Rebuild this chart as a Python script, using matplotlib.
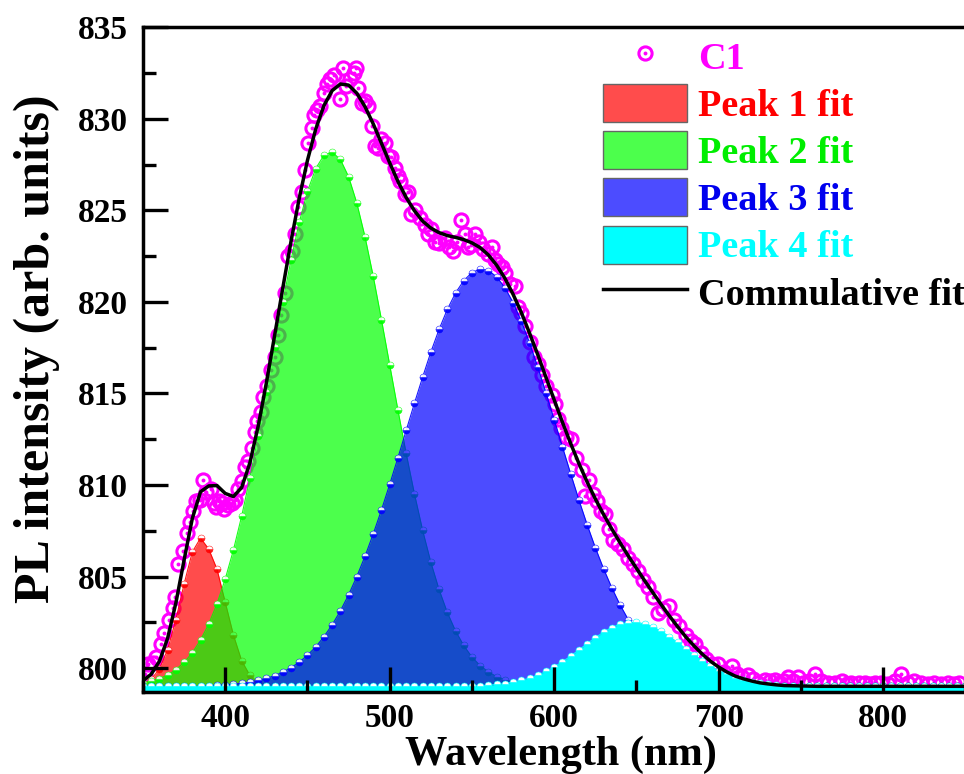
import numpy as np
import matplotlib
matplotlib.use("Agg")
import matplotlib.pyplot as plt
from matplotlib.lines import Line2D
from matplotlib.patches import Patch
from matplotlib.legend_handler import HandlerTuple
from matplotlib.ticker import MultipleLocator

plt.rcParams["font.family"] = ["Liberation Serif", "DejaVu Serif"]
plt.rcParams["font.weight"] = "bold"

# measured PL spectrum (C1)
c1_wl = [351, 353, 356, 358, 361, 363, 366, 368, 369.5, 371.5, 374.5, 376.5,
         378.5, 380.5, 382.5, 384.5, 386.5, 388.5, 391.5, 393, 394.7, 396.5,
         397.8, 399.5, 401.8, 404, 405.9, 407.9, 410, 412, 414, 416, 418,
         419.5, 421.5, 423, 425.5, 428, 430, 432, 434, 436.3, 438.3, 440.5,
         442.4, 444.4, 446.4, 448.5, 450.5, 452.5, 454, 456, 457.6, 460, 462,
         463.6, 466, 469.7, 471.7, 473.7, 476, 478, 479.8, 481, 483, 485, 487,
         489, 491, 493, 495, 497, 499, 501, 503, 505, 506.2, 509.2, 511.2,
         513.2, 515.5, 518.3, 521.4, 523.5, 525.4, 527.5, 530, 533.5, 536,
         538.6, 541, 543.6, 545.7, 547.5, 549.7, 551.8, 554, 557, 559.5, 561.9,
         564, 566, 568, 570, 573, 576.1, 578.1, 580, 582.2, 585.2, 588, 590.3,
         592.3, 595, 598.4, 600.4, 602.5, 604.4, 607, 610.5, 613, 616.6, 618.7,
         621, 623.5, 626, 628.5, 631, 633.5, 636, 639, 642, 645, 648, 651, 654,
         657, 660, 663, 666, 670, 673, 676, 680, 683, 685.5, 689, 692, 696,
         699.7, 703, 707.8, 711, 714, 718, 721, 724, 728, 731, 734, 737, 740,
         742.2, 745, 748.3, 751, 755, 758.5, 762, 766.6, 770.6, 774.7, 778,
         780.7, 785, 788.8, 792, 795, 798.9, 803, 807, 811, 815, 819, 823, 827,
         831, 835, 839.5, 843, 846]
c1_int = [799.7, 800.2, 800.3, 800.6, 801.3, 801.9, 802.6, 803.3, 803.9, 805.7,
          806.4, 807.4, 808.0, 808.6, 809.1, 809.2, 810.3, 809.6, 809.8, 809.0,
          808.8, 809.1, 809.0, 808.7, 808.9, 809.0, 809.2, 809.8, 810.2, 811.0,
          811.3, 812.0, 812.9, 813.5, 814.0, 814.8, 815.4, 816.3, 817.0, 818.2,
          819.3, 820.5, 822.5, 822.8, 823.7, 825.2, 826.0, 827.2, 828.7, 829.5,
          830.2, 830.5, 830.7, 831.4, 831.9, 832.2, 832.4, 831.1, 832.8, 831.8,
          832.2, 832.5, 832.8, 831.7, 830.9, 831.0, 830.7, 829.6, 828.5, 828.4,
          828.9, 828.7, 828.0, 827.9, 827.3, 826.9, 826.6, 825.9, 826.0, 824.8,
          825.0, 824.6, 824.2, 823.7, 824.0, 823.3, 823.2, 823.5, 823.0, 822.8,
          823.3, 824.5, 823.7, 823.0, 823.1, 823.7, 823.3, 822.9, 822.6, 823.0,
          822.3, 822.1, 821.9, 821.6, 821.0, 820.9, 819.7, 819.4, 818.7, 817.8,
          817.0, 816.6, 816.0, 815.4, 814.9, 814.4, 813.6, 813.1, 812.6, 812.5,
          811.5, 810.8, 809.4, 810.3, 809.5, 809.1, 808.6, 808.4, 807.6, 807.0,
          806.8, 806.5, 806.0, 805.7, 805.3, 804.8, 804.4, 803.9, 803.0, 803.2,
          803.4, 802.6, 802.3, 801.8, 801.5, 801.3, 800.8, 800.5, 800.2, 800.2,
          799.8, 800.1, 799.7, 799.5, 799.6, 799.4, 799.2, 799.35, 799.3, 799.35,
          799.2, 799.3, 799.5, 799.3, 799.5, 799.2, 799.3, 799.7, 799.3, 799.2,
          799.2, 799.3, 799.1, 799.2, 799.2, 799.2, 799.1, 799.2, 799.2, 799.1,
          799.3, 799.7, 799.2, 799.3, 799.2, 799.1, 799.2, 799.1, 799.2, 799.1,
          799.2]

# fitted peaks, sampled every 5 nm from the given start wavelength
baseline = 799.0
fit_step = 5
fit_wl = np.arange(350, 855, fit_step)

peak1_start = 350
peak1 = [799.13, 799.38, 799.95, 801.01, 802.64, 804.59, 806.34, 807.10,
         806.50, 805.40, 803.60, 801.80, 800.40, 799.60, 799.22, 799.06,
         799.02, 799.00]

peak2_start = 350
peak2 = [799.18, 799.28, 799.42, 799.62, 799.91, 800.31, 800.83, 801.53,
         802.41, 803.51, 804.86, 806.45, 808.30, 810.38, 812.66, 815.08,
         817.55, 819.99, 822.29, 824.35, 826.04, 827.29, 828.02, 828.19,
         827.79, 826.85, 825.41, 823.56, 821.40, 819.03, 816.56, 814.10,
         811.73, 809.53, 807.53, 805.78, 804.29, 803.04, 802.03, 801.23,
         800.60, 800.13, 799.79, 799.53, 799.36, 799.23, 799.15, 799.09,
         799.06, 799.03, 799.02]

peak3_start = 390
peak3 = [799.04, 799.06, 799.08, 799.12, 799.16, 799.23, 799.32, 799.43,
         799.58, 799.77, 800.02, 800.32, 800.70, 801.15, 801.71, 802.36,
         803.12, 804.00, 805.00, 806.11, 807.33, 808.64, 810.04, 811.49,
         812.98, 814.46, 815.89, 817.26, 818.50, 819.59, 820.49, 821.17,
         821.61, 821.80, 821.72, 821.38, 820.79, 819.97, 818.96, 817.77,
         816.45, 815.04, 813.57, 812.09, 810.62, 809.19, 807.84, 806.58,
         805.43, 804.39, 803.46, 802.65, 801.96, 801.36, 800.87, 800.46,
         800.13, 799.86, 799.65, 799.49, 799.36, 799.26, 799.19, 799.13,
         799.09, 799.07, 799.05, 799.03, 799.02, 799.01]

peak4_start = 540
peak4 = [799.01, 799.01, 799.02, 799.04, 799.06, 799.10, 799.15, 799.22,
         799.32, 799.44, 799.61, 799.81, 800.06, 800.34, 800.65, 800.99,
         801.33, 801.66, 801.96, 802.21, 802.39, 802.48, 802.49, 802.41,
         802.25, 802.01, 801.72, 801.40, 801.05, 800.72, 800.40, 800.11,
         799.86, 799.65, 799.47, 799.34, 799.24, 799.16, 799.11, 799.07,
         799.04, 799.03, 799.02, 799.01]

legend_labels = ["C1", "Peak 1 fit", "Peak 2 fit", "Peak 3 fit", "Peak 4 fit",
                 "Commulative fit"]


def on_grid(start, vals):
    y = np.full(fit_wl.size, baseline)
    i = int(round((start - fit_wl[0]) / fit_step))
    y[i:i + len(vals)] = vals
    return y


peaks = [on_grid(peak1_start, peak1), on_grid(peak2_start, peak2),
         on_grid(peak3_start, peak3), on_grid(peak4_start, peak4)]
cumulative = baseline + sum(p - baseline for p in peaks)

magenta = "#ff00ff"
fill_colors = ["#ff0000", "#00ff00", "#0000ff", "#00ffff"]
fill_alphas = [0.7, 0.7, 0.7, 1.0]
patch_colors = ["#ff4c4c", "#4cff4c", "#4c4cff", "#00ffff"]
text_colors = [magenta, "#ff0000", "#00ee00", "#0000ee", "#00ffff", "black"]

fig = plt.figure(figsize=(9.64, 7.74), dpi=100)
ax = fig.add_axes([0.1483, 0.1062, 0.8532, 0.8583])
ax.set_axisbelow(False)

ax.plot(c1_wl, c1_int, "o", ms=9.5, mfc="none", mec=magenta, mew=2.2, zorder=1)
ax.plot(c1_wl, c1_int, "o", ms=2.8, color=magenta, mew=0, zorder=1)

for i, (p, col, a) in enumerate(zip(peaks, fill_colors, fill_alphas)):
    z = 2 + 0.1 * i
    ax.fill_between(fit_wl, p, 790, color=col, alpha=a, lw=0, zorder=z)
    ax.plot(fit_wl, p, "-o", color=col, lw=0.8, ms=5, fillstyle="bottom",
            mfc=col, mfcalt="white", mec=col, mew=0.4, alpha=min(a + 0.2, 1),
            zorder=z + 0.05)

ax.plot(fit_wl, cumulative, color="black", lw=2.5, zorder=4)

ax.set_xlim(350, 850)
ax.set_ylim(798.7, 835)
ax.xaxis.set_major_locator(MultipleLocator(100))
ax.xaxis.set_minor_locator(MultipleLocator(50))
ax.yaxis.set_major_locator(MultipleLocator(5))
ax.yaxis.set_minor_locator(MultipleLocator(2.5))
ax.tick_params(which="both", direction="in", width=2.4, top=False,
               right=False, labelsize=24)
ax.tick_params(which="major", length=18)
ax.tick_params(which="minor", length=9)
ax.tick_params(axis="y", pad=11)
ax.tick_params(axis="x", pad=8)
for s in ["left", "bottom", "top"]:
    ax.spines[s].set_linewidth(2.5)
    ax.spines[s].set_zorder(5)
ax.spines["right"].set_visible(False)

ax.set_xlabel("Wavelength (nm)", fontsize=30.5, fontweight="bold")
ax.xaxis.set_label_coords(0.508, -0.066)
ax.set_ylabel("PL intensity (arb. units)", fontsize=36, fontweight="bold")
ax.yaxis.set_label_coords(-0.101, 0.516)

c1_handle = (Line2D([], [], ls="none", marker="o", ms=9.5, mfc="none",
                    mec=magenta, mew=2.2),
             Line2D([], [], ls="none", marker="o", ms=2.8, color=magenta,
                    mew=0))
handles = [c1_handle] + [Patch(facecolor=c, edgecolor="#666666", lw=1)
                         for c in patch_colors] + \
          [Line2D([], [], color="black", lw=2.5)]

leg = ax.legend(handles, legend_labels, loc="upper left",
                bbox_to_anchor=(603 / 964, 1 - 37 / 774),
                bbox_transform=fig.transFigure, frameon=False,
                prop={"weight": "bold", "size": 27.5}, handlelength=2.2,
                handleheight=1.15, handletextpad=0.3, labelspacing=0.19,
                borderpad=0, borderaxespad=0,
                handler_map={tuple: HandlerTuple(ndivide=1)})
for t, c in zip(leg.get_texts(), text_colors):
    t.set_color(c)

fig.savefig("out.png", dpi=100)
